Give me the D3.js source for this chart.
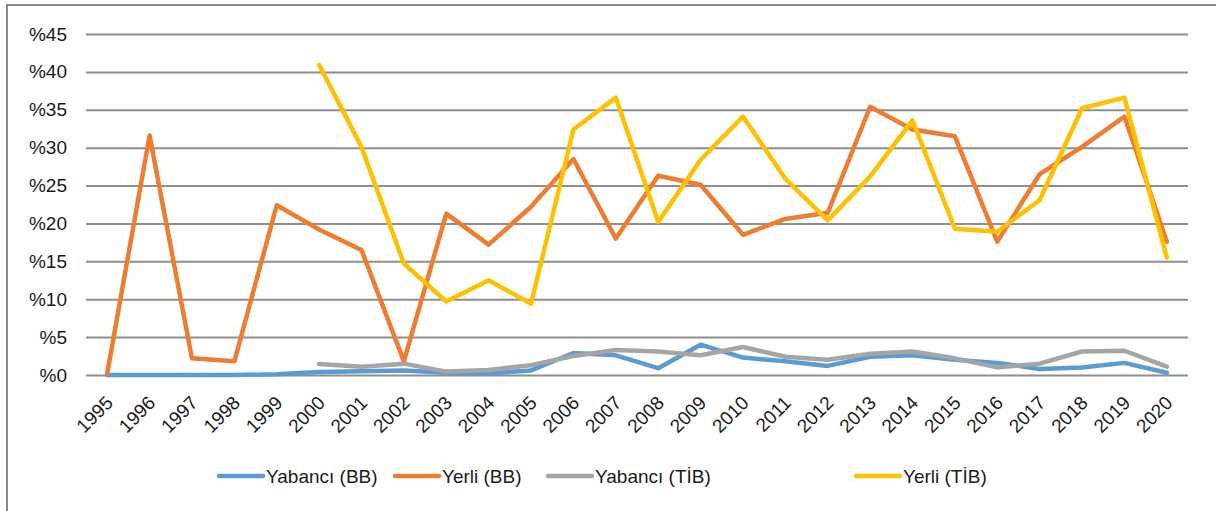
<!DOCTYPE html>
<html>
<head>
<meta charset="utf-8">
<script src="https://cdn.jsdelivr.net/npm/d3@7"></script>
<style>
  html, body { margin: 0; padding: 0; background: #fff; }
  svg { display: block; font-family: "Liberation Sans", Arial, sans-serif; }
</style>
</head>
<body>
<svg id="chart" width="1216" height="511"></svg>
<script>
// Years on the category axis
const years = ["1995","1996","1997","1998","1999","2000","2001","2002","2003","2004","2005","2006","2007",
  "2008","2009","2010","2011","2012","2013","2014","2015","2016","2017","2018","2019","2020"];

// Shares in percent; null where a series has no value
const yabanciBB = [0, 0, 0, 0, 0.1, 0.4, 0.5, 0.6, 0.3, 0.2, 0.6, 2.9, 2.6, 0.9, 4.0, 2.3, 1.8, 1.2,
  2.4, 2.6, 2.0, 1.6, 0.8, 1.0, 1.6, 0.3];
const yerliBB = [0.2, 31.6, 2.2, 1.8, 22.4, 19.2, 16.5, 1.8, 21.3, 17.2, 22.2, 28.5, 18.0, 26.3, 25.1,
  18.5, 20.6, 21.4, 35.4, 32.4, 31.5, 17.6, 26.5, 30.1, 34.1, 17.6];
const yabanciTIB = [null, null, null, null, null, 1.45, 1.1, 1.5, 0.45, 0.65, 1.3, 2.5, 3.3, 3.1, 2.6,
  3.7, 2.4, 2.0, 2.8, 3.1, 2.2, 1.0, 1.5, 3.1, 3.2, 1.1];
const yerliTIB = [null, null, null, null, null, 40.9, 30.1, 14.7, 9.7, 12.5, 9.4, 32.4, 36.6, 20.2, 28.4,
  34.1, 25.9, 20.4, 26.2, 33.6, 19.3, 18.9, 23.1, 35.2, 36.6, 15.5];

const yTicks = [0, 5, 10, 15, 20, 25, 30, 35, 40, 45];

const seriesNames = ["Yabancı (BB)", "Yerli (BB)", "Yabancı (TİB)", "Yerli (TİB)"];
const seriesColors = ["#5B9BD5", "#ED7D31", "#A5A5A5", "#FFC000"];
const seriesValues = [yabanciBB, yerliBB, yabanciTIB, yerliTIB];

const svg = d3.select("#chart");

// outer frame (left and top edges)
svg.append("path")
  .attr("d", "M7,511 V5 H1216")
  .attr("fill", "none")
  .attr("stroke", "#8a8a8a")
  .attr("stroke-width", 2);

const plot = { left: 86, right: 1188, top: 34, bottom: 375 };

const x = d3.scaleBand().domain(years).range([plot.left, plot.right]);
const y = d3.scaleLinear().domain([0, 45]).range([plot.bottom, plot.top]);

// horizontal gridlines
const yAxis = d3.axisLeft(y)
  .tickValues(yTicks)
  .tickSize(-(plot.right - plot.left))
  .tickPadding(19)
  .tickFormat(d => "%" + d);

const gy = svg.append("g")
  .attr("transform", `translate(${plot.left},0)`)
  .call(yAxis);
gy.select(".domain").remove();
gy.selectAll(".tick line")
  .attr("stroke", "#8e8e8e")
  .attr("stroke-width", 2);
gy.selectAll(".tick text")
  .attr("fill", "#1a1a1a")
  .style("font-size", "19px");

// category labels, rotated
const xAxis = d3.axisBottom(x).tickSize(0).tickPadding(0);
const gx = svg.append("g")
  .attr("transform", `translate(0,${plot.bottom})`)
  .call(xAxis);
gx.select(".domain").remove();
gx.selectAll(".tick text")
  .attr("fill", "#1a1a1a")
  .style("font-size", "19px")
  .attr("text-anchor", "end")
  .attr("dy", 0)
  .attr("transform", "translate(7,29) rotate(-45)");

// series lines
const line = d3.line()
  .defined(d => d.v !== null)
  .x(d => x(d.year) + x.bandwidth() / 2)
  .y(d => y(d.v));

seriesValues.forEach((vals, i) => {
  const pts = years.map((yr, j) => ({ year: yr, v: vals[j] }));
  svg.append("path")
    .datum(pts)
    .attr("d", line)
    .attr("fill", "none")
    .attr("stroke", seriesColors[i])
    .attr("stroke-width", 4.5)
    .attr("stroke-linejoin", "round")
    .attr("stroke-linecap", "round");
});

// legend
const legendX = [219, 395, 548, 856];
const legend = svg.append("g").attr("transform", "translate(0,476)");
seriesNames.forEach((name, i) => {
  const g = legend.append("g").attr("transform", `translate(${legendX[i]},0)`);
  g.append("line")
    .attr("x1", 0).attr("x2", 44)
    .attr("y1", 0).attr("y2", 0)
    .attr("stroke", seriesColors[i])
    .attr("stroke-width", 4.5)
    .attr("stroke-linecap", "round");
  g.append("text")
    .attr("x", 47)
    .attr("y", 0)
    .attr("dy", "0.35em")
    .attr("fill", "#1a1a1a")
    .style("font-size", "19px")
    .text(name);
});
</script>
</body>
</html>
